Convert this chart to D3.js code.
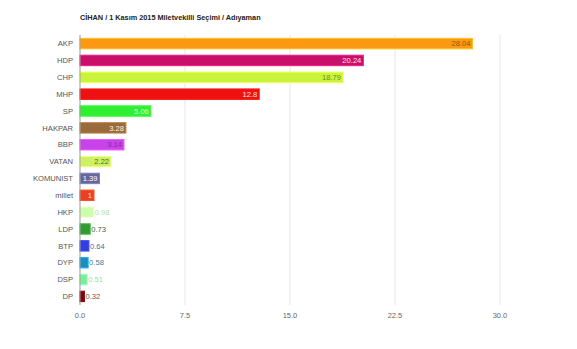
<!DOCTYPE html>
<html>
<head>
<meta charset="utf-8">
<script src="https://cdn.jsdelivr.net/npm/d3@7"></script>
<style>
body { margin: 0; background: #fff; }
text { font-family: "Liberation Sans", Arial, sans-serif; }
</style>
</head>
<body>
<div class="container"></div>
<script>
var width = 577, height = 349;

// chart data
var parties = ["AKP", "HDP", "CHP", "MHP", "SP", "HAKPAR", "BBP", "VATAN", "KOMUNIST", "millet",
               "HKP", "LDP", "BTP", "DYP", "DSP", "DP"];
var values = [28.04, 20.24, 18.79, 12.8, 5.06, 3.28, 3.14, 2.22, 1.39, 1,
              0.98, 0.73, 0.64, 0.58, 0.51, 0.32];
var labels = ["28.04", "20.24", "18.79", "12.8", "5.06", "3.28", "3.14", "2.22", "1.39", "1",
              "0.98", "0.73", "0.64", "0.58", "0.51", "0.32"];
var barColors = ["#fb9a12", "#c8106a", "#c8f53c", "#ee1111", "#30ee30", "#9a6a3a", "#c843ea", "#ccf066",
                 "#66669a", "#ee4020", "#ccffaa", "#339933", "#3040dd", "#1a8ec0", "#77ee99", "#770a0a"];
var labelColors = ["#8a5a10", "#ffe0ee", "#6f8f20", "#ffe0e0", "#d8ffd8", "#fff4e8", "#8a2aa8", "#5a7000",
                   "#ffffff", "#ffe0d8", "#b8e0a0", "#4a5a4a", "#5a6a9a", "#3a7a9a", "#90e0a8", "#7a5050"];
var ticks = [0, 7.5, 15, 22.5, 30];

var margin = {top: 35, left: 80, right: 77, bottom: 44};

var svg = d3.select(".container").append("svg")
    .attr("width", width)
    .attr("height", height);

var x = d3.scaleLinear().domain([0, 30]).range([margin.left, width - margin.right]);
var y = d3.scaleBand().domain(parties).range([margin.top, height - margin.bottom]).paddingInner(0.38).paddingOuter(0.2);

svg.append("text")
    .attr("x", 80).attr("y", 20)
    .style("font-size", "7.3px").style("font-weight", "bold").style("fill", "#222")
    .text("CİHAN / 1 Kasım 2015 Miletvekilli Seçimi / Adıyaman");

// gridlines
svg.append("g").selectAll("line")
    .data(ticks.slice(1))
    .enter().append("line")
        .attr("x1", function(d) { return x(d); })
        .attr("x2", function(d) { return x(d); })
        .attr("y1", margin.top)
        .attr("y2", height - margin.bottom)
        .style("stroke", "#e6e6e6");

// tick labels
svg.append("g").selectAll("text")
    .data(ticks)
    .enter().append("text")
        .attr("x", function(d) { return x(d); })
        .attr("y", height - margin.bottom + 13)
        .attr("text-anchor", "middle")
        .style("font-size", "7.5px").style("fill", "#666")
        .text(function(d) { return d3.format(".1f")(d); });

// category labels
svg.append("g").selectAll("text")
    .data(parties)
    .enter().append("text")
        .attr("x", margin.left - 7)
        .attr("y", function(d) { return y(d) + y.bandwidth() / 2; })
        .attr("dy", "0.35em")
        .attr("text-anchor", "end")
        .style("font-size", "7.6px").style("fill", "#555")
        .text(function(d) { return d; });

// bars
var bars = svg.append("g").selectAll("g")
    .data(parties)
    .enter().append("g");

bars.append("rect")
    .attr("x", x(0))
    .attr("y", function(d) { return y(d); })
    .attr("width", function(d, i) { return x(values[i]) - x(0); })
    .attr("height", y.bandwidth())
    .style("fill", function(d, i) { return barColors[i]; })
    .style("stroke", function(d, i) { return d3.color(barColors[i]).brighter(0.6); })
    .style("stroke-width", 1);

bars.append("text")
    .attr("x", function(d, i) { return values[i] >= 1 ? x(values[i]) - 2 : x(values[i]) + 1; })
    .attr("y", function(d) { return y(d) + y.bandwidth() / 2; })
    .attr("dy", "0.35em")
    .attr("text-anchor", function(d, i) { return values[i] >= 1 ? "end" : "start"; })
    .style("font-size", "7.6px")
    .style("fill", function(d, i) { return labelColors[i]; })
    .text(function(d, i) { return labels[i]; });

// axis line at zero
svg.append("line")
    .attr("x1", x(0)).attr("x2", x(0))
    .attr("y1", margin.top).attr("y2", height - margin.bottom)
    .style("stroke", "#999");
</script>
</body>
</html>
